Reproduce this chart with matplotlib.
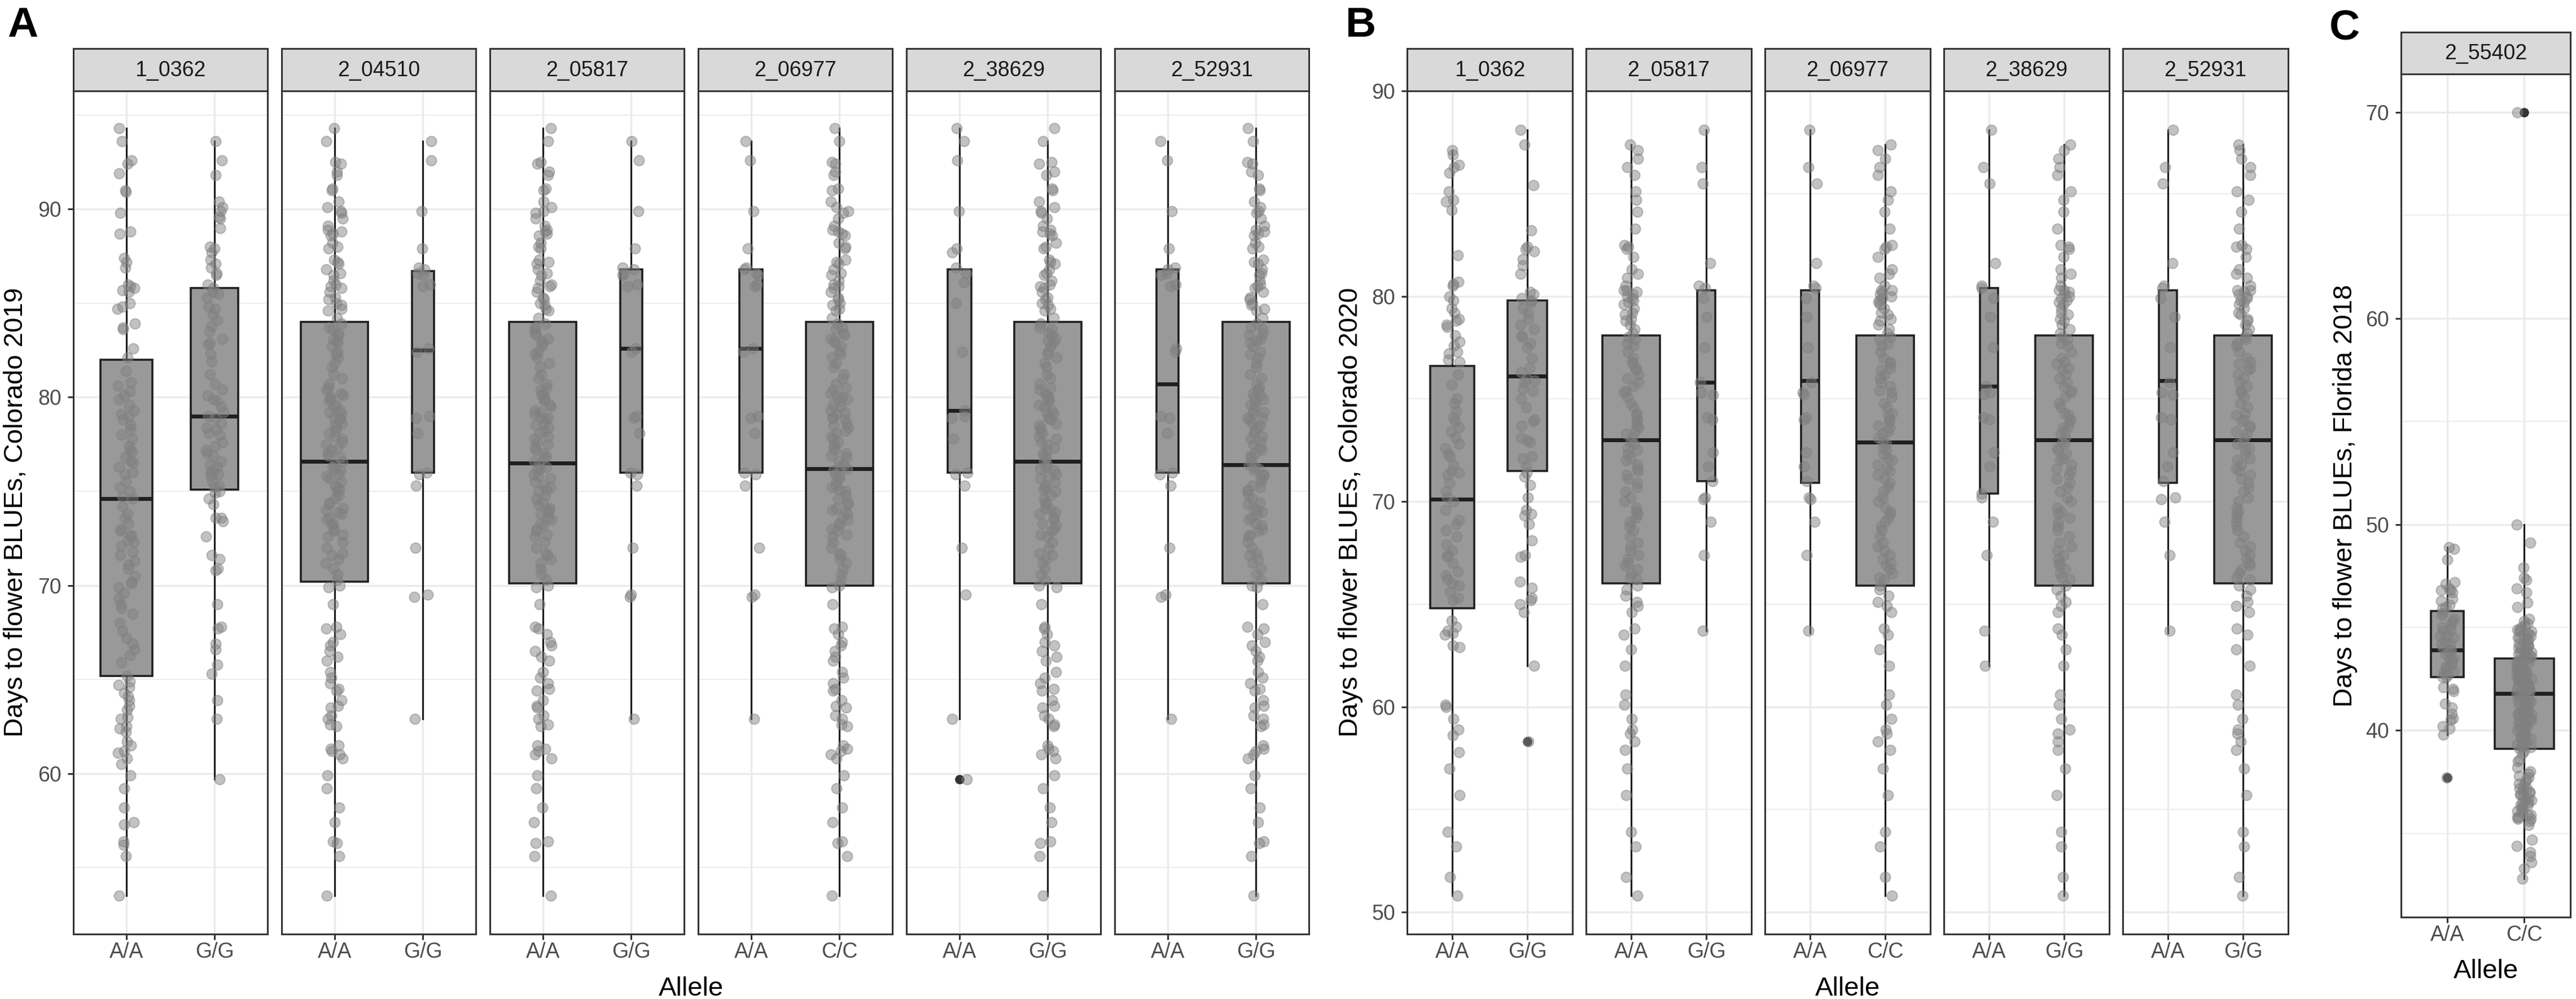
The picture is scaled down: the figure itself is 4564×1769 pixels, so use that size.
import matplotlib
matplotlib.use("Agg")
import matplotlib.pyplot as plt
import numpy as np

plt.rcParams['font.family'] = ['Liberation Sans', 'DejaVu Sans']

# ---------------- data: Colorado 2019 (panel A) ----------------
a_markers = ['1_0362', '2_04510', '2_05817', '2_06977', '2_38629', '2_52931']
a_alleles = [('A/A', 'G/G'), ('A/A', 'G/G'), ('A/A', 'G/G'), ('A/A', 'C/C'), ('A/A', 'G/G'), ('A/A', 'G/G')]
a_q1 = [(65.2, 75.1), (70.2, 76.0), (70.1, 76.0), (76.0, 70.0), (76.0, 70.1), (76.0, 70.1)]
a_med = [(74.6, 79.0), (76.6, 82.5), (76.5, 82.6), (82.6, 76.2), (79.3, 76.6), (80.7, 76.4)]
a_q3 = [(82.0, 85.8), (84.0, 86.7), (84.0, 86.8), (86.8, 84.0), (86.8, 84.0), (86.8, 84.0)]
a_lo = [(53.5, 59.7), (53.5, 62.9), (53.5, 62.9), (62.9, 53.5), (62.9, 53.5), (62.9, 53.5)]
a_hi = [(94.3, 93.6), (94.3, 93.6), (94.3, 93.6), (93.6, 94.3), (94.3, 93.6), (93.6, 94.3)]
a_out = [([], []), ([], []), ([], []), ([], []), ([59.7], []), ([], [])]

a1_aa = [94.3, 93.6, 92.6, 92.4, 91.9, 91.0, 90.9, 89.8, 88.8, 88.7, 87.4, 87.2, 86.9, 86.0, 85.9,
         85.8, 85.7, 85.6, 85.0, 84.8, 84.7, 83.9, 83.7, 83.6, 82.6, 82.1, 81.4, 80.8, 80.6, 80.3,
         80.1, 79.9, 79.6, 79.3, 79.1, 79.0, 78.8, 78.5, 78.3, 78.0, 77.8, 77.4, 77.2, 77.1, 76.8,
         76.6, 76.5, 76.3, 76.0, 75.9, 75.5, 75.2, 75.0, 74.7, 74.6, 74.2, 73.8, 73.6, 73.3, 73.0,
         72.9, 72.7, 72.6, 72.4, 72.3, 72.1, 71.8, 71.6, 71.3, 71.1, 70.9, 70.5, 70.2, 70.1, 69.9,
         69.6, 69.3, 69.0, 68.8, 68.5, 68.0, 67.6, 67.2, 66.9, 66.6, 66.3, 65.9, 65.2, 64.9, 64.7,
         64.6, 64.3, 64.1, 63.9, 63.6, 63.4, 63.0, 62.9, 62.5, 62.4, 62.2, 61.7, 61.5, 61.2, 61.1,
         60.8, 60.5, 59.9, 59.2, 58.2, 57.4, 57.3, 56.4, 56.2, 55.6, 53.5]
a1_gg = [93.6, 92.6, 91.8, 90.4, 90.1, 89.9, 89.6, 89.5, 89.0, 88.0, 87.9, 87.7, 87.3, 87.1, 86.9,
         86.6, 86.5, 86.0, 85.8, 85.6, 85.5, 85.3, 84.8, 84.7, 84.4, 84.1, 83.8, 83.5, 83.1, 82.9,
         82.8, 82.3, 81.9, 81.2, 80.7, 80.4, 80.1, 79.9, 79.8, 79.5, 79.2, 79.0, 78.9, 78.6, 78.4,
         78.3, 78.1, 78.0, 77.6, 77.4, 77.2, 77.0, 76.9, 76.6, 76.4, 76.3, 76.1, 76.0, 75.9, 75.8,
         75.5, 75.3, 75.2, 75.0, 74.9, 74.6, 74.3, 73.6, 73.6, 73.4, 72.6, 71.6, 71.4, 70.9, 70.8,
         69.0, 67.8, 67.7, 66.9, 66.6, 65.8, 65.3, 63.9, 62.9, 59.7]
a_major = [94.3, 93.6, 92.5, 92.4, 92.0, 91.8, 91.1, 91.0, 90.4, 90.1, 89.9, 89.8, 89.5, 89.1, 88.9,
           88.8, 88.7, 88.6, 88.2, 88.0, 87.9, 87.3, 87.2, 87.1, 86.8, 86.6, 86.5, 86.2, 86.0, 85.9,
           85.8, 85.6, 85.3, 85.2, 85.0, 84.9, 84.7, 84.6, 84.2, 83.9, 83.7, 83.6, 83.4, 83.3, 83.1,
           83.0, 82.9, 82.7, 82.4, 82.3, 82.1, 81.8, 81.6, 81.2, 81.0, 80.7, 80.5, 80.4, 80.2, 80.1,
           80.0, 79.9, 79.8, 79.6, 79.5, 79.3, 79.2, 79.1, 78.9, 78.9, 78.8, 78.6, 78.5, 78.4, 78.2,
           78.1, 77.9, 77.8, 77.6, 77.5, 77.3, 77.2, 77.0, 76.9, 76.8, 76.6, 76.4, 76.3, 76.2, 76.1,
           75.9, 75.8, 75.7, 75.5, 75.3, 75.2, 75.1, 75.0, 74.8, 74.6, 74.4, 74.3, 74.1, 74.0, 73.9,
           73.8, 73.6, 73.5, 73.3, 73.2, 73.0, 72.9, 72.7, 72.6, 72.3, 72.0, 71.7, 71.6, 71.4, 71.2,
           70.9, 70.6, 70.3, 70.0, 69.9, 69.0, 67.8, 67.7, 67.4, 67.0, 66.8, 66.5, 66.2, 66.0, 65.4,
           65.1, 64.8, 64.5, 64.4, 63.9, 63.6, 63.5, 63.1, 62.9, 62.6, 62.5, 61.5, 61.3, 61.2, 61.0,
           60.8, 59.9, 59.2, 58.2, 57.4, 56.4, 56.3, 55.6, 53.5]
a_minor = [93.6, 92.6, 89.9, 87.9, 86.9, 86.8, 86.6, 86.5, 86.0, 85.9, 82.6, 82.4, 79.0, 78.9,
           78.1, 76.0, 75.9, 75.3, 72.0, 69.5, 69.4, 62.9]
a_minor_2_38629 = [94.3, 93.6, 92.6, 89.9, 87.9, 87.7, 86.9, 86.6, 86.1, 85.0, 82.4, 79.3, 79.0,
                   78.9, 77.8, 76.0, 75.9, 75.3, 72.0, 69.5, 62.9, 59.7]
a_points = [(a1_aa, a1_gg), (a_major, a_minor), (a_major, a_minor), (a_minor, a_major),
            (a_minor_2_38629, a_major), (a_minor, a_major)]

# ---------------- data: Colorado 2020 (panel B) ----------------
b_markers = ['1_0362', '2_05817', '2_06977', '2_38629', '2_52931']
b_alleles = [('A/A', 'G/G'), ('A/A', 'G/G'), ('A/A', 'C/C'), ('A/A', 'G/G'), ('A/A', 'G/G')]
b_q1 = [(64.8, 71.5), (66.0, 71.0), (70.9, 65.9), (70.4, 65.9), (70.9, 66.0)]
b_med = [(70.1, 76.1), (73.0, 75.8), (75.9, 72.9), (75.6, 73.0), (75.9, 73.0)]
b_q3 = [(76.6, 79.8), (78.1, 80.3), (80.3, 78.1), (80.4, 78.1), (80.3, 78.1)]
b_lo = [(50.8, 62.0), (50.8, 63.7), (63.6, 50.8), (62.0, 50.8), (63.6, 50.8)]
b_hi = [(87.1, 88.1), (87.4, 88.1), (88.1, 87.4), (88.1, 87.4), (88.1, 87.4)]
b_out = [([], [58.3]), ([], []), ([], []), ([], []), ([], [])]

b1_aa = [87.1, 86.9, 86.4, 86.3, 86.0, 85.1, 84.7, 84.6, 84.2, 82.0, 80.7, 80.6, 80.5, 80.0, 79.8,
         79.4, 79.2, 78.9, 78.8, 78.6, 78.5, 78.1, 77.8, 77.6, 77.3, 77.2, 76.9, 76.8, 76.2, 75.7,
         75.0, 74.8, 74.4, 74.1, 73.9, 73.6, 73.4, 73.1, 72.8, 72.6, 72.3, 72.2, 71.8, 71.5, 71.4,
         71.3, 70.9, 70.5, 70.2, 70.0, 69.6, 69.1, 68.9, 68.6, 68.3, 67.9, 67.6, 67.4, 67.3, 67.0,
         66.6, 66.4, 66.2, 66.0, 65.9, 65.6, 65.3, 65.2, 64.2, 63.9, 63.7, 63.6, 63.5, 63.0, 62.9,
         60.1, 60.0, 59.4, 58.9, 58.6, 57.8, 57.0, 55.7, 53.9, 53.2, 51.7, 50.8]
b1_gg = [88.1, 87.4, 85.4, 83.2, 82.4, 82.3, 82.2, 81.8, 81.5, 81.1, 80.2, 80.1, 79.9, 79.8, 79.7,
         79.4, 79.2, 78.9, 78.6, 78.4, 78.1, 78.0, 77.7, 77.5, 77.0, 76.5, 76.3, 76.0, 75.9, 75.8,
         75.5, 75.4, 75.0, 74.6, 74.0, 73.9, 73.7, 73.1, 73.0, 72.9, 72.2, 72.1, 71.7, 71.4, 71.2,
         70.8, 70.2, 69.6, 69.4, 69.3, 68.9, 68.1, 67.4, 67.3, 66.1, 65.8, 65.3, 65.2, 65.0, 64.6,
         62.0, 58.3]
b_major = [87.4, 87.1, 86.7, 86.3, 85.9, 85.1, 84.7, 84.1, 83.3, 82.5, 82.4, 82.3, 81.9, 81.3, 81.1,
           80.9, 80.5, 80.3, 80.3, 80.2, 80.1, 80.0, 79.9, 79.8, 79.7, 79.6, 79.4, 79.2, 79.1, 78.9,
           78.8, 78.6, 78.4, 78.2, 78.0, 77.9, 77.7, 77.6, 77.3, 77.0, 76.8, 76.7, 76.5, 76.4, 76.2,
           76.0, 75.8, 75.6, 75.4, 75.3, 75.1, 74.8, 74.6, 74.3, 74.2, 74.0, 73.9, 73.7, 73.6, 73.4,
           73.3, 73.1, 72.9, 72.8, 72.6, 72.5, 72.3, 72.1, 72.0, 71.8, 71.6, 71.5, 71.3, 71.1, 70.9,
           70.7, 70.5, 70.2, 70.0, 69.7, 69.5, 69.4, 69.2, 69.0, 68.8, 68.6, 68.3, 68.0, 67.8, 67.6,
           67.4, 67.2, 67.0, 66.9, 66.7, 66.5, 66.3, 66.2, 65.9, 65.7, 65.4, 65.1, 64.9, 64.6, 63.8,
           63.5, 62.8, 62.0, 60.6, 60.1, 59.4, 58.9, 58.7, 58.3, 57.9, 57.0, 55.7, 53.9, 53.2, 51.7,
           50.8]
b_minor = [88.1, 86.3, 85.5, 81.6, 80.5, 80.4, 79.9, 79.0, 77.5, 75.8, 75.3, 75.2, 74.1, 74.0,
           72.4, 71.7, 71.0, 70.2, 70.1, 69.0, 67.4, 63.7]
b_minor_2_38629 = [88.1, 86.3, 85.5, 81.6, 80.5, 80.4, 79.9, 79.0, 77.5, 75.6, 75.3, 75.2, 74.1,
                   74.0, 72.4, 71.7, 70.4, 70.2, 69.0, 67.4, 63.7, 62.0]
b_points = [(b1_aa, b1_gg), (b_major, b_minor), (b_minor, b_major), (b_minor_2_38629, b_major),
            (b_minor, b_major)]

# ---------------- data: Florida 2018 (panel C) ----------------
c_markers = ['2_55402']
c_alleles = [('A/A', 'C/C')]
c_q1 = [(42.6, 39.1)]
c_med = [(43.9, 41.8)]
c_q3 = [(45.8, 43.5)]
c_lo = [(39.8, 32.8)]
c_hi = [(48.9, 50.0)]
c_out = [([37.7], [70.0])]

c_aa = [48.9, 48.8, 48.3, 47.2, 47.1, 46.9, 46.8, 46.8, 46.7, 46.4, 46.3, 46.1, 46.0, 45.9, 45.7,
        45.6, 45.4, 45.3, 45.1, 45.0, 44.9, 44.8, 44.6, 44.6, 44.5, 44.3, 44.2, 44.2, 44.0, 43.9,
        43.9, 43.8, 43.7, 43.5, 43.5, 43.4, 43.2, 43.1, 43.0, 42.9, 42.8, 42.7, 42.6, 42.6, 42.1,
        42.0, 41.9, 41.3, 41.1, 40.8, 40.6, 40.5, 40.2, 40.1, 39.8, 37.7]
c_cc = [70.0, 50.0, 49.1, 47.9, 47.4, 47.3, 46.9, 46.7, 46.2, 46.0, 45.4, 45.3, 45.1, 45.0, 44.9,
        44.9, 44.8, 44.7, 44.7, 44.6, 44.5, 44.4, 44.4, 44.3, 44.2, 44.2, 44.1, 44.0, 43.9, 43.9,
        43.8, 43.8, 43.7, 43.6, 43.6, 43.5, 44.6, 44.1, 43.9, 44.8, 45.2, 44.0, 43.7, 44.5, 43.6,
        43.4, 43.4, 43.3, 43.3, 43.2, 43.1, 43.0, 43.0, 42.9, 42.9, 42.8, 42.7, 42.7, 42.6, 42.6,
        42.5, 42.4, 42.4, 42.3, 42.2, 42.2, 42.1, 42.0, 42.0, 41.9, 41.9, 41.8, 43.2, 42.8, 42.5,
        42.1, 41.9, 43.3, 42.6, 42.2, 42.9, 43.0, 42.4, 42.7, 43.1, 42.0, 42.3, 41.8, 43.4, 42.5,
        41.7, 41.6, 41.5, 41.4, 41.3, 41.1, 41.0, 40.9, 40.8, 40.7, 40.6, 40.5, 40.3, 40.2, 40.1,
        40.0, 39.9, 39.8, 39.6, 39.5, 39.4, 39.3, 39.2, 39.1, 41.6, 41.3, 41.0, 40.7, 40.4, 40.1,
        39.8, 39.5, 39.2, 41.5, 41.2, 40.8, 40.5, 40.2, 39.9, 39.6, 39.3, 41.4, 40.9, 40.3, 39.7,
        39.0, 38.9, 38.6, 38.5, 38.2, 38.0, 37.9, 37.7, 37.6, 37.5, 37.3, 37.2, 37.1, 37.0, 36.9,
        36.8, 36.7, 36.6, 36.5, 36.4, 36.3, 36.2, 36.1, 36.0, 35.9, 35.8, 35.7, 35.6, 35.4, 37.4,
        37.0, 36.6, 36.2, 35.8, 37.8, 36.9, 36.4, 35.7, 37.2, 36.5, 35.9, 34.7, 34.4, 34.1, 33.9,
        33.6, 33.3, 32.8]
c_points = [(c_aa, c_cc)]

# ---------------- layout (pixels) and styling ----------------
W, H = 4564, 1769
fig = plt.figure(figsize=(W / 100, H / 100), dpi=100)


def rect(l, t, r, b):
    return [l / W, 1 - b / H, (r - l) / W, (b - t) / H]


rng = np.random.default_rng(3)  # horizontal jitter, like geom_jitter
BORDER = '#333333'
LINE = '#1f1f1f'


def draw_facet(l, t, r, b, st, ylim, majors, minors, name, alleles, q1, med, q3, lo, hi, out,
               widths, points, show_y):
    ax = fig.add_axes(rect(l, t, r, b))
    ax.set_xlim(0.4, 2.6)
    ax.set_ylim(*ylim)
    ax.set_yticks(majors)
    ax.set_yticks(minors, minor=True)
    ax.set_xticks([1, 2])
    ax.set_xticklabels(alleles)
    ax.set_axisbelow(True)
    ax.grid(True, which='major', color='#ebebeb', linewidth=2.5)
    ax.grid(True, which='minor', axis='y', color='#ebebeb', linewidth=1.3)
    for s in ax.spines.values():
        s.set_color(BORDER)
        s.set_linewidth(2.2)
    ax.tick_params(which='major', length=7, width=2.2, color=BORDER, labelsize=27,
                   labelcolor='#4d4d4d')
    ax.tick_params(axis='x', pad=3)
    ax.tick_params(axis='y', pad=8)
    ax.tick_params(which='minor', length=0)
    if not show_y:
        ax.tick_params(axis='y', left=False, labelleft=False)

    stats = []
    for k in range(2):
        stats.append(dict(med=med[k], q1=q1[k], q3=q3[k], whislo=lo[k], whishi=hi[k],
                          fliers=out[k]))
    ax.bxp(stats, positions=[1, 2], widths=list(widths), patch_artist=True, showcaps=False,
           manage_ticks=False,
           boxprops=dict(facecolor='#999999', edgecolor=LINE, linewidth=2.6),
           whiskerprops=dict(color=LINE, linewidth=2.3),
           medianprops=dict(color=LINE, linewidth=5.0, solid_capstyle='butt'),
           flierprops=dict(marker='o', markerfacecolor=BORDER, markeredgecolor=BORDER,
                           markersize=11))
    for k in range(2):
        vals = np.asarray(points[k])
        xs = (k + 1) + rng.uniform(-0.1, 0.1, len(vals))
        ax.scatter(xs, vals, s=170, facecolor=(0.5, 0.5, 0.5, 0.48),
                   edgecolor=(0.5, 0.5, 0.5, 0.48), linewidth=1.5, zorder=3)

    sax = fig.add_axes(rect(l, st, r, t))
    sax.set_facecolor('#d9d9d9')
    sax.set_xticks([])
    sax.set_yticks([])
    for s in sax.spines.values():
        s.set_color(BORDER)
        s.set_linewidth(2.2)
    sax.text(0.5, 0.48, name, ha='center', va='center', size=27, color='#1a1a1a',
             transform=sax.transAxes)
    return ax


# panel A
a_w = [(0.59, 0.54), (0.76, 0.25), (0.76, 0.25), (0.26, 0.76), (0.27, 0.76), (0.25, 0.76)]
for i, name in enumerate(a_markers):
    l = 130 + i * 369
    draw_facet(l, 161, l + 344, 1654, 86, (51.47, 96.28), [60, 70, 80, 90], [55, 65, 75, 85, 95],
               name, a_alleles[i], a_q1[i], a_med[i], a_q3[i], a_lo[i], a_hi[i], a_out[i],
               a_w[i], a_points[i], i == 0)

# panel B
b_w = [(0.585, 0.53), (0.77, 0.24), (0.24, 0.77), (0.24, 0.77), (0.24, 0.77)]
for i, name in enumerate(b_markers):
    l = 2493 + i * 317
    draw_facet(l, 161, l + 293, 1654, 86, (48.93, 89.97), [50, 60, 70, 80, 90], [55, 65, 75, 85],
               name, b_alleles[i], b_q1[i], b_med[i], b_q3[i], b_lo[i], b_hi[i], b_out[i],
               b_w[i], b_points[i], i == 0)

# panel C
draw_facet(4254, 131, 4554, 1624, 57, (30.94, 71.86), [40, 50, 60, 70], [35, 45, 55, 65],
           c_markers[0], c_alleles[0], c_q1[0], c_med[0], c_q3[0], c_lo[0], c_hi[0], c_out[0],
           (0.43, 0.77), c_points[0], True)


def ftext(x, y, s, **kw):
    fig.text(x / W, 1 - y / H, s, **kw)


ftext(13, 65, 'A', size=54, weight='bold', ha='left', va='baseline')
ftext(2384, 65, 'B', size=54, weight='bold', ha='left', va='baseline')
ftext(4127, 69, 'C', size=54, weight='bold', ha='left', va='baseline')

ftext(40, 907, 'Days to flower BLUEs, Colorado 2019', size=34, rotation=90,
      rotation_mode='anchor', ha='center', va='baseline')
ftext(2405, 907, 'Days to flower BLUEs, Colorado 2020', size=34, rotation=90,
      rotation_mode='anchor', ha='center', va='baseline')
ftext(4167, 878, 'Days to flower BLUEs, Florida 2018', size=34, rotation=90,
      rotation_mode='anchor', ha='center', va='baseline')

ftext(1224, 1763, 'Allele', size=34, ha='center', va='baseline')
ftext(3273, 1763, 'Allele', size=34, ha='center', va='baseline')
ftext(4404, 1732, 'Allele', size=34, ha='center', va='baseline')

fig.savefig('out.png', dpi=100)
